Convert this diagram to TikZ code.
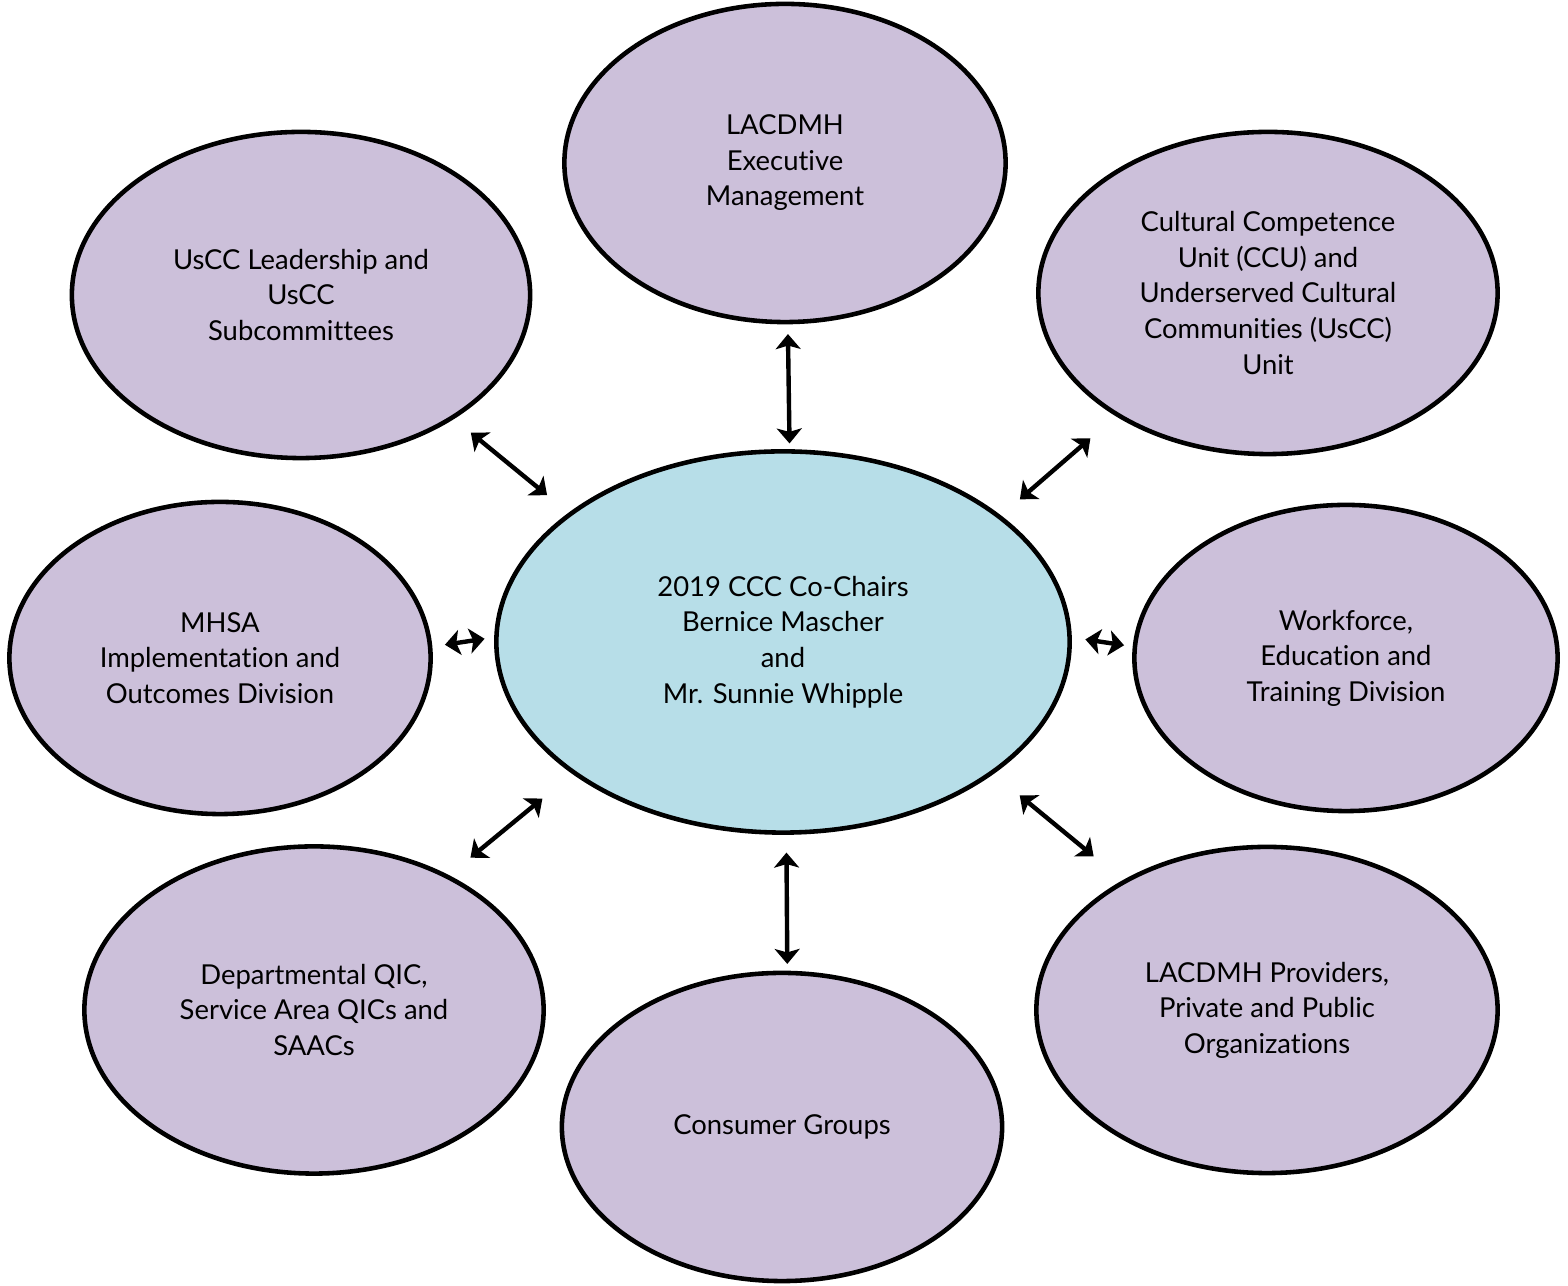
\documentclass[tikz,border=0pt]{standalone}
\usepackage{fontspec}
\setmainfont{Lato}[Ligatures=NoCommon]
\usetikzlibrary{shapes.geometric,arrows.meta}
\definecolor{lav}{RGB}{204,192,218}
\definecolor{aqua}{RGB}{183,222,232}

\begin{document}
\begin{tikzpicture}[x=0.01cm,y=-0.01cm,
  every node/.style={draw,ellipse,line width=1.3pt,fill=lav,align=center,inner sep=0pt,outer sep=0pt,font=\fontsize{7.8}{10.1}\selectfont},
  link/.style={<->,>={Stealth[length=0.15cm,width=0.25cm,inset=0.035cm]},line width=1.25pt}]

\useasboundingbox (0,0) rectangle (1568,1286);

\node[fill=aqua,minimum width=5.73cm,minimum height=3.81cm](ctr) at (783,642) {2019 CCC Co-Chairs\\Bernice Mascher\\and\\Mr. Sunnie Whipple};

\node[minimum width=4.41cm,minimum height=3.18cm](exec) at (785,163) {LACDMH\\Executive\\Management};
\node[minimum width=4.58cm,minimum height=3.26cm](uscc) at (301,295) {UsCC Leadership and\\UsCC\\Subcommittees};
\node[minimum width=4.59cm,minimum height=3.22cm](ccu) at (1268,293) {Cultural Competence\\Unit (CCU) and\\Underserved Cultural\\Communities (UsCC)\\Unit};
\node[minimum width=4.21cm,minimum height=3.12cm](mhsa) at (220,658) {MHSA\\Implementation and\\Outcomes Division};
\node[minimum width=4.23cm,minimum height=3.06cm](wet) at (1346,658) {Workforce,\\Education and\\Training Division};
\node[minimum width=4.59cm,minimum height=3.27cm](qic) at (314,1010) {Departmental QIC,\\Service Area QICs and\\SAACs};
\node[minimum width=4.40cm,minimum height=3.08cm](cons) at (782,1127) {Consumer Groups};
\node[minimum width=4.61cm,minimum height=3.26cm](prov) at (1267,1010) {LACDMH Providers,\\Private and Public\\Organizations};

\draw[link,shorten <=0.12cm,shorten >=0.08cm](exec.-89.3)--(ctr.88.8);
\draw[link,shorten <=0.24cm,shorten >=0.30cm](uscc.-39.1)--(ctr.149.8);
\draw[link,shorten <=0.27cm,shorten >=0.36cm](ctr.30.8)--(ccu.219.6);
\draw[link,shorten <=0.15cm,shorten >=0.12cm](mhsa.3)--(ctr.179);
\draw[link,shorten <=0.16cm,shorten >=0.11cm](ctr.1)--(wet.177);
\draw[link,shorten <=0.30cm,shorten >=0.41cm](qic.45)--(ctr.212);
\draw[link,shorten <=0.36cm,shorten >=0.40cm](ctr.-32.7)--(prov.138.6);
\draw[link,shorten <=0.20cm,shorten >=0.09cm](ctr.-89.4)--(cons.88.9);
\end{tikzpicture}
\end{document}
